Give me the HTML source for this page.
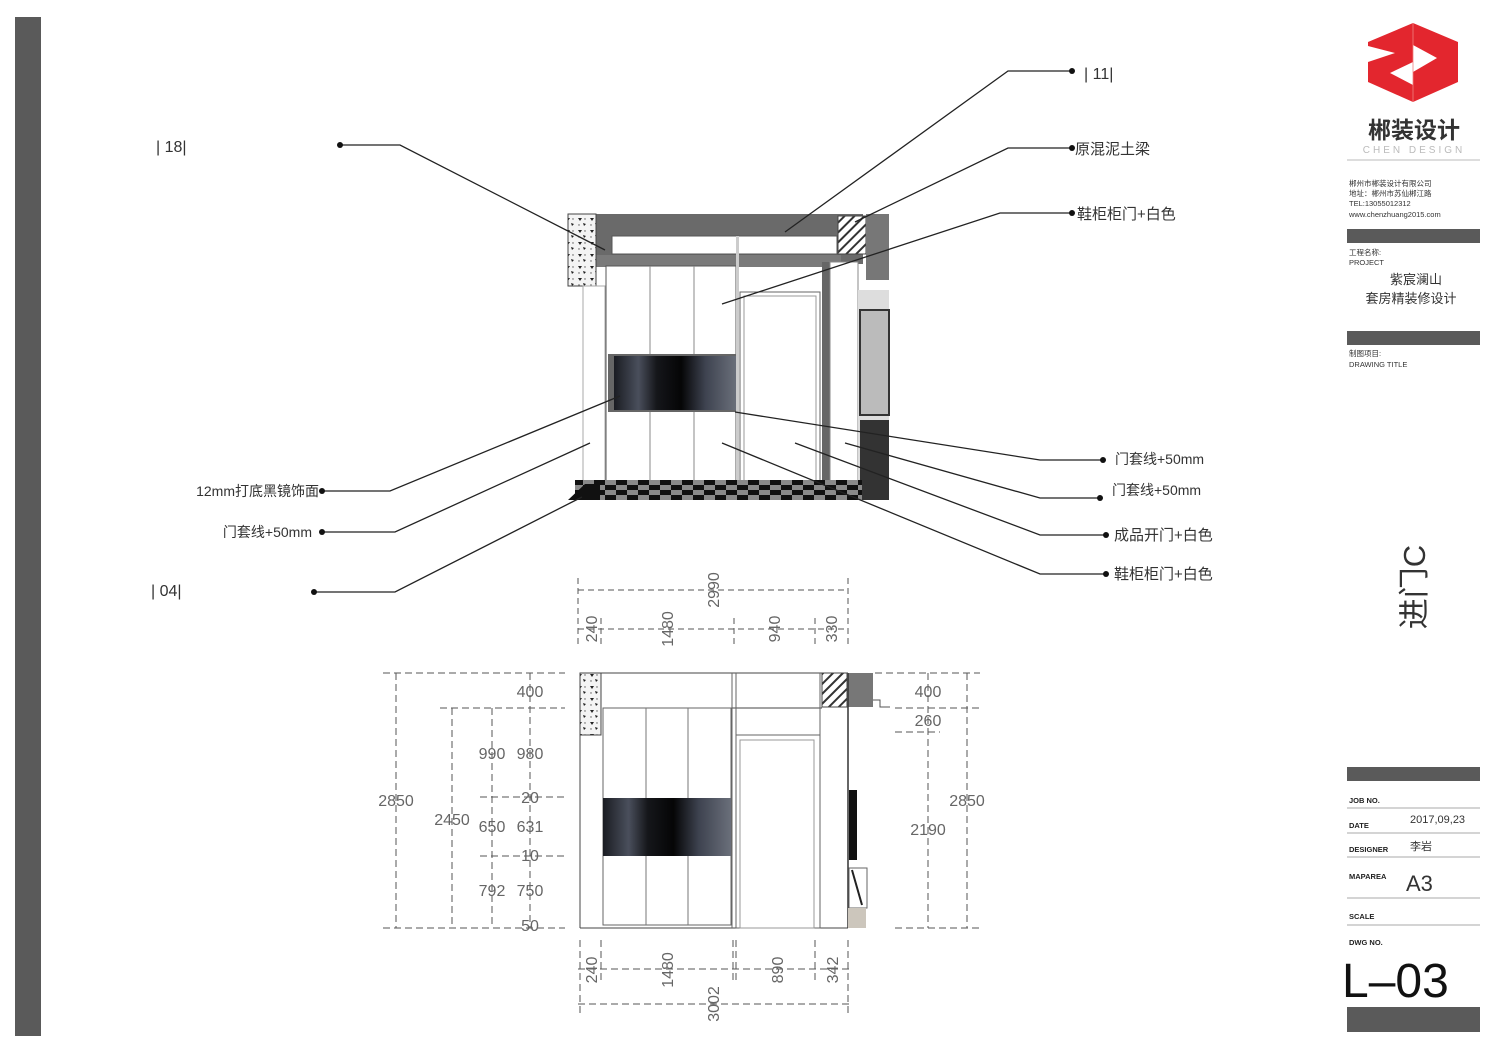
<!DOCTYPE html>
<html><head><meta charset="utf-8"><style>
html,body{margin:0;padding:0;background:#fff}
svg{display:block}
text{font-family:"Liberation Sans","Noto Sans CJK SC",sans-serif}
</style></head><body>
<svg width="1500" height="1061" viewBox="0 0 1500 1061" xmlns="http://www.w3.org/2000/svg">
<defs>
<linearGradient id="mir" x1="0" x2="1" y1="0" y2="0">
<stop offset="0" stop-color="#1a1c22"/><stop offset="0.2" stop-color="#4a4f5c"/><stop offset="0.35" stop-color="#15161a"/><stop offset="0.55" stop-color="#050506"/><stop offset="0.75" stop-color="#3e4350"/><stop offset="1" stop-color="#6a6f7a"/>
</linearGradient>
<pattern id="chk" width="22" height="10" patternUnits="userSpaceOnUse"><rect width="22" height="10" fill="#8a8a8a"/><rect width="11" height="5" fill="#111"/><rect x="11" y="5" width="11" height="5" fill="#111"/></pattern>
<pattern id="hat" width="7" height="7" patternUnits="userSpaceOnUse" patternTransform="rotate(45)"><rect width="7" height="7" fill="#fff"/><rect width="2" height="7" fill="#333"/></pattern>
<pattern id="conc" width="12" height="12" patternUnits="userSpaceOnUse"><rect width="12" height="12" fill="#f4f4f4"/><path d="M2 2 l4 0 l-2 3z M7 7 l3 1 l-2 2z" fill="#222"/><circle cx="9" cy="3" r="0.7" fill="#555"/><circle cx="3" cy="9" r="0.7" fill="#555"/></pattern>
</defs>
<rect x="15" y="17" width="26" height="1019" fill="#5a5a5a"/>

<!-- top perspective -->
<g>
<rect x="596" y="214" width="267" height="50" fill="#6a6a6a"/>
<rect x="612" y="236" width="225" height="18" fill="#fff" stroke="#555"/>
<rect x="596" y="255" width="245" height="12" fill="#7a7a7a"/>
<rect x="568" y="214" width="28" height="72" fill="url(#conc)" stroke="#444"/>
<rect x="838" y="216" width="28" height="38" fill="url(#hat)" stroke="#444"/>
<rect x="866" y="214" width="23" height="66" fill="#777"/>
<rect x="583" y="286" width="22" height="196" fill="#fff" stroke="#aaa"/>
<rect x="606" y="266" width="130" height="216" fill="#fff" stroke="#555"/>
<line x1="650" y1="266" x2="650" y2="482" stroke="#888"/>
<line x1="694" y1="266" x2="694" y2="482" stroke="#888"/>
<rect x="608" y="354" width="128" height="58" fill="#666"/>
<rect x="614" y="356" width="122" height="54" fill="url(#mir)"/>
<rect x="736" y="236" width="3" height="246" fill="#ccc"/>
<rect x="740" y="292" width="80" height="190" fill="#fff" stroke="#666"/>
<rect x="744" y="296" width="72" height="186" fill="#fff" stroke="#999"/>
<rect x="822" y="262" width="8" height="220" fill="#666"/>
<rect x="830" y="262" width="28" height="220" fill="#fff" stroke="#888"/>
<rect x="858" y="290" width="31" height="210" fill="#ddd"/>
<rect x="860" y="310" width="29" height="105" fill="#bbb" stroke="#333" stroke-width="2"/>
<rect x="860" y="420" width="29" height="80" fill="#333"/>
<rect x="575" y="480" width="287" height="20" fill="url(#chk)"/>
<polygon points="568,500 585,484 600,484 600,500" fill="#111"/>
</g>

<!-- leaders -->
<g stroke="#222" stroke-width="1.3" fill="none">
<polyline points="1072,71 1008,71 785,232"/>
<polyline points="1072,148 1008,148 855,222"/>
<polyline points="1072,213 1000,213 722,304"/>
<polyline points="340,145 400,145 605,250"/>
<polyline points="322,491 390,491 620,396"/>
<polyline points="322,532 395,532 590,443"/>
<polyline points="314,592 395,592 582,497"/>
<polyline points="1103,460 1040,460 735,412"/>
<polyline points="1100,498 1040,498 845,443"/>
<polyline points="1106,535 1040,535 795,443"/>
<polyline points="1106,574 1040,574 722,443"/>
</g>
<g fill="#111">
<circle cx="1072" cy="71" r="3"/><circle cx="1072" cy="148" r="3"/><circle cx="1072" cy="213" r="3"/>
<circle cx="340" cy="145" r="3"/><circle cx="322" cy="491" r="3"/><circle cx="322" cy="532" r="3"/><circle cx="314" cy="592" r="3"/>
<circle cx="1103" cy="460" r="3"/><circle cx="1100" cy="498" r="3"/><circle cx="1106" cy="535" r="3"/><circle cx="1106" cy="574" r="3"/>
</g>
<g font-size="15" fill="#333">
<text x="1084" y="79" font-size="16">|  11|</text>
<text x="1075" y="154">原混泥土梁</text>
<text x="1077" y="219">鞋柜柜门+白色</text>
<text x="156" y="152" font-size="16">|  18|</text>
<text x="319" y="496" text-anchor="end" font-size="14">12mm打底黑镜饰面</text>
<text x="312" y="537" text-anchor="end" font-size="14">门套线+50mm</text>
<text x="151" y="596" font-size="16">|  04|</text>
<text x="1115" y="464" font-size="14">门套线+50mm</text>
<text x="1112" y="495" font-size="14">门套线+50mm</text>
<text x="1114" y="540">成品开门+白色</text>
<text x="1114" y="579">鞋柜柜门+白色</text>
</g>

<!-- top dims -->
<g stroke="#555" stroke-width="1" stroke-dasharray="6,4" fill="none">
<line x1="578" y1="590" x2="848" y2="590"/>
<line x1="578" y1="629" x2="848" y2="629"/>
<line x1="578" y1="578" x2="578" y2="646"/><line x1="601" y1="618" x2="601" y2="646"/>
<line x1="734" y1="618" x2="734" y2="646"/><line x1="815" y1="618" x2="815" y2="646"/>
<line x1="848" y1="578" x2="848" y2="646"/>
</g>
<g font-size="16" fill="#666" text-anchor="middle">
<text transform="translate(719,590) rotate(-90)">2990</text>
<text transform="translate(597,629) rotate(-90)">240</text>
<text transform="translate(673,629) rotate(-90)">1480</text>
<text transform="translate(780,629) rotate(-90)">940</text>
<text transform="translate(837,629) rotate(-90)">330</text>
</g>

<!-- bottom elevation -->
<g>
<line x1="580" y1="673" x2="848" y2="673" stroke="#444"/>
<line x1="580" y1="928" x2="848" y2="928" stroke="#444"/>
<line x1="580" y1="673" x2="580" y2="928" stroke="#444"/>
<rect x="580" y="673" width="21" height="62" fill="url(#conc)" stroke="#444"/>
<line x1="608" y1="708" x2="822" y2="708" stroke="#444"/>
<rect x="603" y="708" width="128" height="217" fill="#fff" stroke="#666"/>
<line x1="646" y1="708" x2="646" y2="925" stroke="#777"/>
<line x1="688" y1="708" x2="688" y2="925" stroke="#777"/>
<rect x="603" y="798" width="128" height="58" fill="url(#mir)"/>
<line x1="732" y1="673" x2="732" y2="928" stroke="#666"/>
<line x1="736" y1="673" x2="736" y2="928" stroke="#666"/>
<rect x="736" y="735" width="84" height="193" fill="none" stroke="#666"/>
<rect x="740" y="740" width="74" height="188" fill="none" stroke="#999"/>
<line x1="820" y1="673" x2="820" y2="928" stroke="#666"/>
<rect x="822" y="673" width="25" height="34" fill="url(#hat)" stroke="#444"/>
<rect x="847" y="673" width="26" height="34" fill="#777"/>
<polyline points="873,700 880,700 880,707 890,707" fill="none" stroke="#555"/>
<line x1="848" y1="673" x2="848" y2="928" stroke="#333" stroke-width="1.5"/>
<rect x="849" y="790" width="8" height="70" fill="#111"/>
<rect x="849" y="868" width="18" height="40" fill="none" stroke="#666"/>
<line x1="852" y1="870" x2="862" y2="905" stroke="#222" stroke-width="2"/>
<rect x="848" y="908" width="18" height="20" fill="#ccc6bc"/>
</g>
<g stroke="#555" stroke-width="1" stroke-dasharray="7,4" fill="none">
<line x1="383" y1="673" x2="565" y2="673"/>
<line x1="440" y1="708" x2="565" y2="708"/>
<line x1="480" y1="797" x2="565" y2="797"/>
<line x1="480" y1="856" x2="565" y2="856"/>
<line x1="383" y1="928" x2="565" y2="928"/>
<line x1="396" y1="673" x2="396" y2="928"/>
<line x1="452" y1="708" x2="452" y2="928"/>
<line x1="492" y1="708" x2="492" y2="928"/>
<line x1="530" y1="673" x2="530" y2="928"/>
<line x1="875" y1="673" x2="980" y2="673"/>
<line x1="895" y1="708" x2="980" y2="708"/>
<line x1="895" y1="732" x2="940" y2="732"/>
<line x1="895" y1="928" x2="980" y2="928"/>
<line x1="928" y1="673" x2="928" y2="928"/>
<line x1="967" y1="673" x2="967" y2="928"/>
<line x1="580" y1="940" x2="580" y2="1015"/>
<line x1="601" y1="940" x2="601" y2="980"/>
<line x1="733" y1="940" x2="733" y2="980"/>
<line x1="736" y1="940" x2="736" y2="980"/>
<line x1="815" y1="940" x2="815" y2="980"/>
<line x1="848" y1="940" x2="848" y2="1015"/>
<line x1="578" y1="969" x2="850" y2="969"/>
<line x1="578" y1="1004" x2="850" y2="1004"/>
</g>
<g font-size="16" fill="#666" text-anchor="middle">
<text x="530" y="697">400</text>
<text x="396" y="806">2850</text>
<text x="452" y="825">2450</text>
<text x="492" y="759">990</text><text x="530" y="759">980</text>
<text x="530" y="803">20</text>
<text x="492" y="832">650</text><text x="530" y="832">631</text>
<text x="530" y="861">10</text>
<text x="492" y="896">792</text><text x="530" y="896">750</text>
<text x="530" y="931">50</text>
<text x="928" y="697">400</text>
<text x="928" y="726">260</text>
<text x="928" y="835">2190</text>
<text x="967" y="806">2850</text>
<text transform="translate(597,970) rotate(-90)">240</text>
<text transform="translate(673,970) rotate(-90)">1480</text>
<text transform="translate(783,970) rotate(-90)">890</text>
<text transform="translate(838,970) rotate(-90)">342</text>
<text transform="translate(719,1004) rotate(-90)">3002</text>
</g>

<!-- title block -->
<polygon points="1368,42 1413,23 1458,42 1458,82 1413,102 1368,82 1368,62 1395,53 1368,46" fill="#e3262e"/>
<polygon points="1413,45 1437,58 1413,72" fill="#fff"/>
<polygon points="1390,73 1413,62 1413,85" fill="#fff"/>
<line x1="1413" y1="23" x2="1413" y2="102" stroke="#f08080" stroke-width="0.8"/>
<text x="1414" y="138" font-size="23" font-weight="bold" fill="#333" text-anchor="middle">郴装设计</text>
<text x="1414" y="153" font-size="10" fill="#bbb" text-anchor="middle" letter-spacing="3">CHEN DESIGN</text>
<line x1="1347" y1="160" x2="1480" y2="160" stroke="#bbb"/>
<g font-size="7.5" fill="#333">
<text x="1349" y="186">郴州市郴装设计有限公司</text>
<text x="1349" y="196">地址：郴州市苏仙郴江路</text>
<text x="1349" y="206">TEL:13055012312</text>
<text x="1349" y="217">www.chenzhuang2015.com</text>
<text x="1349" y="255">工程名称:</text>
<text x="1349" y="265">PROJECT</text>
<text x="1349" y="356">制图项目:</text>
<text x="1349" y="367">DRAWING TITLE</text>
</g>
<rect x="1347" y="229" width="133" height="14" fill="#5a5a5a"/>
<text x="1416" y="284" font-size="13" fill="#333" text-anchor="middle">紫宸澜山</text>
<text x="1411" y="303" font-size="13" fill="#333" text-anchor="middle">套房精装修设计</text>
<rect x="1347" y="331" width="133" height="14" fill="#5a5a5a"/>
<text transform="translate(1425,587) rotate(-90)" font-size="31" fill="#333" text-anchor="middle">进门C</text>
<rect x="1347" y="767" width="133" height="14" fill="#5a5a5a"/>
<g font-size="7.5" font-weight="bold" fill="#222">
<text x="1349" y="803">JOB NO.</text><text x="1349" y="828">DATE</text><text x="1349" y="852">DESIGNER</text>
<text x="1349" y="879">MAPAREA</text><text x="1349" y="919">SCALE</text><text x="1349" y="945">DWG NO.</text>
</g>
<g stroke="#aaa"><line x1="1347" y1="808" x2="1480" y2="808"/><line x1="1347" y1="833" x2="1480" y2="833"/><line x1="1347" y1="857" x2="1480" y2="857"/><line x1="1347" y1="898" x2="1480" y2="898"/><line x1="1347" y1="925" x2="1480" y2="925"/></g>
<text x="1410" y="823" font-size="11" fill="#333">2017,09,23</text>
<text x="1410" y="850" font-size="11" fill="#333">李岩</text>
<text x="1406" y="891" font-size="22" fill="#333">A3</text>
<text x="1342" y="997" font-size="48" fill="#111">L–03</text>
<rect x="1347" y="1007" width="133" height="25" fill="#5a5a5a"/>
</svg>
</body></html>
